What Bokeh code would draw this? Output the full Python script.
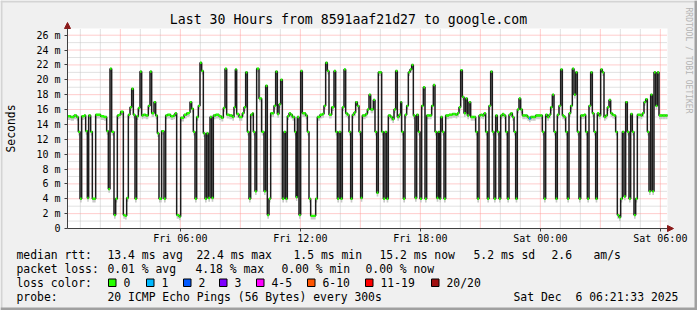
import math
from bokeh.plotting import figure
from bokeh.models import (FixedTicker, Label, Arrow, NormalHead, BoxAnnotation,
                          Range1d, ColumnDataSource)
from bokeh.embed import file_html
from bokeh.resources import INLINE

# ---------------- data (minutes since Fri 00:00, median rtt in ms) ----------------
t_min = [
    21, 31, 41, 49, 54, 59, 64, 71, 76, 81,
    85, 91, 96, 101, 106, 113, 121, 131, 139, 144,
    149, 154, 161, 166, 171, 176, 181, 189, 194, 199,
    204, 209, 214, 219, 224, 229, 234, 239, 244, 249,
    256, 264, 269, 274, 281, 286, 291, 296, 304, 311,
    316, 321, 331, 339, 344, 349, 356, 361, 371, 379,
    386, 389, 394, 399, 404, 409, 414, 419, 424, 429,
    434, 439, 444, 449, 454, 459, 466, 476, 483,
    489, 494, 499, 507, 516, 521, 525, 529, 536, 546,
    551, 556, 561, 566, 571, 576, 579, 584, 589, 596,
    604, 611, 616, 621, 626, 631, 636, 641, 646, 651,
    656, 661, 666, 671, 676, 681, 686, 691, 696, 703,
    707, 711, 716, 721, 726, 736, 741, 746, 751, 761,
    766, 771, 779, 786, 791, 796, 801, 806, 814, 821,
    826, 831, 836, 841, 846, 851, 856, 861, 866, 871,
    876, 881, 886, 891, 896, 901, 906, 916, 921, 926,
    931,
    939, 944, 949, 954, 959, 964, 969, 974, 979, 984,
    991, 996, 1001, 1006, 1011, 1016, 1021, 1024, 1029, 1034,
    1039, 1044, 1049, 1054, 1059, 1064, 1069, 1074, 1079, 1084,
    1089, 1094, 1099, 1107, 1114, 1119, 1124, 1129, 1134, 1138,
    1141, 1146, 1151, 1156, 1166, 1176, 1186, 1191, 1196, 1201,
    1206, 1211, 1216, 1221, 1226, 1231, 1239, 1246, 1251, 1256,
    1261, 1266, 1271, 1276, 1281, 1286, 1291, 1296, 1301, 1306,
    1311, 1316, 1321, 1326, 1331, 1336, 1341, 1346, 1351, 1356,
    1361, 1366, 1371, 1376, 1381,
    1386, 1396, 1401, 1406, 1411, 1416, 1426, 1436, 1441, 1446,
    1451, 1456, 1461, 1466, 1471, 1476, 1481, 1486, 1491, 1496,
    1501, 1506, 1511, 1516, 1521, 1526, 1531, 1536, 1541, 1546,
    1551, 1556, 1561, 1566, 1571, 1576, 1581, 1586, 1591, 1596,
    1601, 1606, 1611, 1616, 1621, 1626, 1631, 1636, 1641, 1646,
    1651, 1656, 1661, 1666, 1671, 1676, 1681, 1686, 1691, 1696,
    1701, 1706, 1711, 1716, 1721, 1726, 1731, 1741, 1746, 1751,
    1756, 1761, 1766, 1771, 1776, 1781, 1786, 1791, 1796, 1806,
    1816,
]
median_ms = [
    15.1, 15.0, 15.2, 15.0, 13.0, 4.0, 15.1, 15.2, 13.1, 4.1,
    15.2, 13.0, 4.0, 4.0, 15.3, 15.3, 15.1, 15.0, 13.1, 5.3,
    21.5, 13.0, 1.8, 4.0, 15.2, 15.3, 15.7, 1.8, 1.7, 4.1,
    15.3, 16.3, 18.8, 15.3, 4.0, 15.1, 16.2, 21.1, 15.2, 15.3,
    15.2, 16.5, 21.1, 15.5, 17.0, 15.2, 12.8, 4.0, 13.1, 4.0,
    15.2, 15.3, 15.1, 15.2, 15.5, 1.8, 1.6, 14.9, 15.3, 15.5,
    15.6, 17.0, 16.1, 13.0, 4.0, 15.0, 16.5, 22.3, 21.2, 12.8,
    4.0, 12.8, 4.1, 15.0, 4.1, 15.2, 15.3, 15.1, 14.9,
    16.2, 21.5, 15.3, 15.2, 15.0, 16.3, 21.4, 15.4, 15.0, 15.5,
    16.3, 21.0, 13.0, 4.0, 15.3, 15.5, 13.0, 5.0, 21.5, 17.5,
    13.0, 5.0, 19.2, 1.8, 4.0, 15.5, 15.5, 16.5, 21.1, 15.4,
    16.7, 20.0, 4.0, 13.0, 4.0, 15.1, 15.5, 15.3, 15.0, 13.0,
    4.2, 15.0, 1.8, 21.2, 15.5, 15.2, 13.0, 4.0, 1.7, 1.7,
    4.0, 15.0, 15.3, 15.4, 16.5, 22.3, 21.2, 15.3, 16.3, 21.2,
    13.0, 4.0, 13.0, 4.0, 16.3, 21.4, 15.5, 15.3, 13.0, 4.0,
    15.3, 15.6, 17.0, 16.5, 13.0, 4.1, 15.2, 15.4, 16.0, 18.0,
    16.0,
    17.3, 13.0, 4.8, 21.0, 21.0, 13.0, 4.0, 13.0, 4.0, 15.2,
    15.0, 14.7, 16.0, 21.2, 15.0, 15.3, 17.0, 13.0, 4.0, 15.3,
    16.5, 21.0, 21.4, 22.0, 15.2, 4.1, 15.3, 13.0, 4.0, 16.5,
    19.0, 4.0, 15.2, 15.2, 16.5, 19.3, 13.0, 4.1, 13.0, 4.0,
    15.0, 13.0, 4.0, 15.2, 15.3, 15.4, 15.3, 15.5, 16.3, 21.3,
    17.7, 15.5, 17.5, 15.2, 17.0, 15.0, 15.0, 13.0, 4.0, 15.2,
    15.3, 15.2, 15.5, 13.0, 4.0, 16.5, 21.1, 13.0, 4.0, 15.2,
    13.0, 4.0, 15.2, 15.4, 15.2, 13.0, 4.0, 15.3, 15.5, 15.0,
    13.0, 4.0, 16.0, 17.5, 16.0,
    15.2, 15.2, 15.0, 14.8, 15.0, 15.0, 15.2, 15.2, 15.2, 13.0,
    4.0, 15.3, 15.0, 15.3, 16.3, 18.0, 13.0, 4.0, 15.3, 16.5,
    21.4, 15.2, 15.0, 13.0, 4.0, 15.5, 16.5, 21.5, 18.0, 21.0,
    13.0, 4.0, 15.2, 15.2, 15.3, 13.0, 4.0, 16.5, 21.0, 15.5,
    13.0, 4.0, 15.5, 15.2, 21.4, 21.0, 15.0, 15.2, 16.3, 17.3,
    15.5, 15.3, 15.2, 13.0, 1.8, 1.5, 4.0, 13.0, 4.3, 17.0,
    13.0, 4.0, 15.4, 13.0, 1.8, 4.0, 15.3, 15.2, 15.5, 17.0,
    17.4, 13.0, 5.0, 18.0, 5.0, 21.0, 16.5, 21.0, 15.2, 15.2,
    15.2,
]
assert len(t_min) == len(median_ms), (len(t_min), len(median_ms))

t_start, t_end = 21.5, 1821.5          # Fri 00:21:33 .. Sat 06:21:33
y_top = 26.9
loss_times = [1406]                    # samples with lost pings
loss_counts = [1]

x_ticks = [360, 720, 1080, 1440, 1800]
x_tick_labels = ["Fri 06:00", "Fri 12:00", "Fri 18:00", "Sat 00:00", "Sat 06:00"]
y_ticks = [0, 2, 4, 6, 8, 10, 12, 14, 16, 18, 20, 22, 24, 26]
y_tick_labels = ["0", "2 m", "4 m", "6 m", "8 m", "10 m", "12 m", "14 m",
                 "16 m", "18 m", "20 m", "22 m", "24 m", "26 m"]

title_text = "Last 30 Hours from 8591aaf21d27 to google.com"
y_label = "Seconds"
rtt_stats = ["median rtt:", "13.4 ms avg", "22.4 ms max", "1.5 ms min",
             "15.2 ms now", "5.2 ms sd", "2.6", "am/s"]
loss_stats = ["packet loss:", "0.01 % avg", "4.18 % max", "0.00 % min", "0.00 % now"]
loss_labels = ["0", "1", "2", "3", "4-5", "6-10", "11-19", "20/20"]
loss_colors = ["#26ff00", "#00b8ff", "#0059ff", "#7e00ff", "#ff00ff",
               "#ff5500", "#ff0000", "#a01010"]
probe_text = "20 ICMP Echo Pings (56 Bytes) every 300s"
stamp_parts = ["Sat Dec", "6 06:21:33 2025"]
watermark = "RRDTOOL / TOBI OETIKER"

# ---------------- layout: the frame is the whole canvas ----------------
W, H = 697, 310
PL, PT, PR, PB = 67, 28, 667, 228      # plot area in canvas px
MIN_PER_PX = (t_end - t_start) / (PR - PL)
MS_PER_PX = y_top / (PB - PT)
MONO = "DejaVu Sans Mono"
LEG = "11.4px"

x_range = Range1d(t_start - PL * MIN_PER_PX, t_end + (W - PR) * MIN_PER_PX)
y_range = Range1d(-(H - PB) * MS_PER_PX, y_top + PT * MS_PER_PX)

p = figure(width=W, height=H, title=None, output_backend="svg", toolbar_location=None,
           x_range=x_range, y_range=y_range, min_border=0)
p.min_border_left = p.min_border_right = p.min_border_top = p.min_border_bottom = 0
p.border_fill_color = "#f0f0f0"
p.background_fill_color = "#f0f0f0"
p.outline_line_color = None
p.xgrid.visible = False
p.ygrid.visible = False

# white plotting canvas
p.add_layout(BoxAnnotation(left=t_start, right=t_end, bottom=0, top=y_top,
                           fill_color="#ffffff", fill_alpha=1.0, line_color=None,
                           level="underlay"))

# grid (dotted), drawn from the tick arrays
hours = list(range(60, 1821, 60))
minor_x = [h for h in hours if h % 180 != 0]
major_x = [h for h in hours if h % 180 == 0]
minor_y = list(range(1, 27, 2))
major_y = y_ticks[1:]
p.segment(x0=minor_x, x1=minor_x, y0=[0] * len(minor_x), y1=[y_top] * len(minor_x),
          line_color="#c4c4c4", line_width=1, line_dash="1 1")
p.segment(x0=[t_start] * len(minor_y), x1=[t_end] * len(minor_y), y0=minor_y, y1=minor_y,
          line_color="#c4c4c4", line_width=1, line_dash="1 1")
p.segment(x0=major_x, x1=major_x, y0=[0] * len(major_x), y1=[y_top] * len(major_x),
          line_color="#ff9a9a", line_width=1, line_dash="1 1")
p.segment(x0=[t_start] * len(major_y), x1=[t_end] * len(major_y), y0=major_y, y1=major_y,
          line_color="#ff9a9a", line_width=1, line_dash="1 1")

# axes at fixed locations (take no panel space)
p.xaxis.fixed_location = 0
p.yaxis.fixed_location = t_start
p.xaxis.bounds = (t_start, t_end)
p.yaxis.bounds = (0, y_top)
p.xaxis.ticker = FixedTicker(ticks=x_ticks, minor_ticks=[])
p.xaxis.major_label_overrides = dict(zip(x_ticks, x_tick_labels))
p.yaxis.ticker = FixedTicker(ticks=y_ticks, minor_ticks=[])
p.yaxis.major_label_overrides = dict(zip(y_ticks, y_tick_labels))
for ax in (p.xaxis, p.yaxis):
    ax.axis_line_color = None
    ax.major_tick_in = 0
    ax.major_tick_out = 3
    ax.major_tick_line_color = "#404040"
    ax.minor_tick_line_color = None
    ax.major_label_text_font = MONO
    ax.major_label_text_font_size = "10px"
    ax.major_label_text_color = "#000000"
p.xaxis.major_label_standoff = 1
p.yaxis.major_label_standoff = 4

# ---------------- series ----------------
nxt = t_min[1:] + [t_end]
loss_of = dict(zip(loss_times, loss_counts))
def loss_idx(n):
    if n <= 3:
        return n
    if n <= 5:
        return 4
    if n <= 10:
        return 5
    if n <= 19:
        return 6
    return 7
cols = [loss_colors[loss_idx(loss_of.get(t, 0))] for t in t_min]
src = ColumnDataSource(dict(
    left=t_min, right=nxt, med=median_ms,
    smoke_lo=[v - 0.5 for v in median_ms], smoke_hi=[v + 0.15 for v in median_ms],
    band_lo=[v - 0.16 for v in median_ms], band_hi=[v + 0.16 for v in median_ms],
    col=cols))

p.quad(left="left", right="right", bottom="smoke_lo", top="smoke_hi", source=src,
       fill_color="#c8c8c8", line_color=None)
p.step(x=t_min + [t_end], y=median_ms + [median_ms[-1]], mode="after",
       line_color="#1c1c1c", line_width=1.5)
p.quad(left="left", right="right", bottom="band_lo", top="band_hi", source=src,
       fill_color="col", line_color=None)

# axis lines with arrows
head = dict(size=6, fill_color="#8b1a1a", line_color="#8b1a1a", line_width=1)
p.add_layout(Arrow(x_start=t_start, y_start=0, x_end=t_end + 6 * MIN_PER_PX, y_end=0,
                   line_color="#404040", line_width=1, end=NormalHead(**head)))
p.add_layout(Arrow(x_start=t_start, y_start=0, x_end=t_start, y_end=y_top + 6 * MS_PER_PX,
                   line_color="#404040", line_width=1, end=NormalHead(**head)))

# ---------------- texts (canvas px, y measured from top) ----------------
def txt(X, Y, s, size=LEG, color="#000000", align="left", angle=0.0):
    p.add_layout(Label(x=X, y=H - Y, x_units="screen", y_units="screen", text=s,
                       text_font=MONO, text_font_size=size, text_color=color,
                       text_align=align, text_baseline="middle", angle=angle))

def box(X0, Y0, X1, Y1, fill, line=None):
    p.add_layout(BoxAnnotation(left=X0, right=X1, top=H - Y0, bottom=H - Y1,
                               left_units="screen", right_units="screen",
                               top_units="screen", bottom_units="screen",
                               fill_color=fill, fill_alpha=1.0,
                               line_color=line, line_width=1, line_alpha=1.0))

txt(348, 19, title_text, size="13.2px", align="center")
txt(10.5, 128, y_label, align="center", angle=math.pi / 2)
txt(688, 60, watermark, size="8px", color="#b4b4b4", align="center", angle=-math.pi / 2)

row1_x = [16, 107, 196, 293, 379, 473, 551, 593]
for s, X in zip(rtt_stats, row1_x):
    txt(X, 254, s)
row2_x = [16, 107, 195, 281, 365]
for s, X in zip(loss_stats, row2_x):
    txt(X, 268, s)
txt(16, 282, "loss color:")
box_x = [108, 146, 183, 219, 256, 307, 365, 431]
for lab, c, X in zip(loss_labels, loss_colors, box_x):
    box(X, 278.5, X + 7.5, 286, c, "#000000")
    txt(X + 15, 282, lab)
txt(16, 296, "probe:")
txt(107, 296, probe_text)
txt(513, 296, stamp_parts[0])
txt(575, 296, stamp_parts[1])

# outer frame shading
box(0, 0, W, 2, "#d4d4d4")
box(0, 0, 2, H, "#d4d4d4")
box(0, H - 3, W, H, "#a0a0a0")
box(W - 3, 0, W, H, "#a0a0a0")

open("out.html", "w").write(file_html(p, INLINE))
